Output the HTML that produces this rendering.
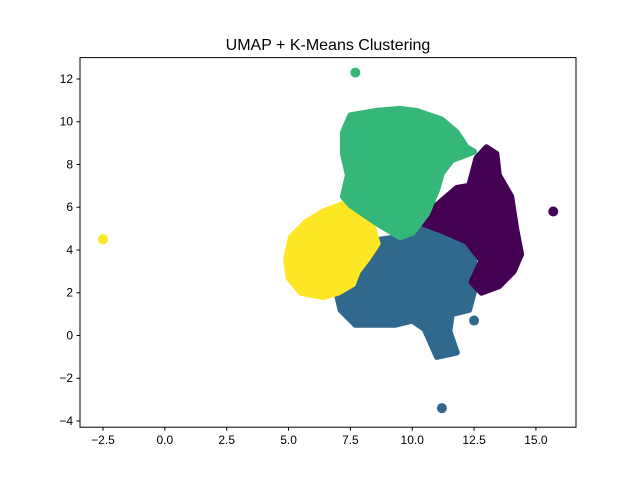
<!DOCTYPE html>
<html><head><meta charset="utf-8"><style>
html,body{margin:0;padding:0;background:#fff;}
svg{display:block;font-family:"Liberation Sans","DejaVu Sans",sans-serif;}
</style></head><body>
<svg id="chart" width="640" height="480">
<rect width="640" height="480" fill="#fff"/>
<text x="328" y="50" text-anchor="middle" font-size="16">UMAP + K-Means Clustering</text>
<g id="marks"></g>
<rect x="80" y="57.6" width="496" height="369.6" fill="none" stroke="#000" stroke-width="1"/>
<g id="axes" font-size="12"></g>
</svg>
<script>
const xTicks=[-2.5,0.0,2.5,5.0,7.5,10.0,12.5,15.0];
const yTicks=[-4,-2,0,2,4,6,8,10,12];
const clusterNames=["cluster-yellow","cluster-blue","cluster-purple","cluster-green"];
const clusterColors=["#fde725","#31688e","#440154","#35b779"];
const yellowRegion=[[4.9,3.6],[5.1,4.6],[5.7,5.3],[6.4,5.8],[7.3,6.2],[7.8,5.8],[8.4,5.1],[8.6,4.3],[8.2,3.6],[7.8,3.0],[7.6,2.4],[7.0,2.0],[6.4,1.8],[5.5,2.0],[5.0,2.7]];
const blueRegion=[[7.2,3.3],[8.2,4.4],[9.4,4.6],[10.3,5.4],[11.0,5.0],[12.0,4.5],[12.5,3.5],[12.6,2.5],[12.3,1.2],[11.6,1.0],[11.5,0.2],[11.8,-0.8],[11.0,-1.0],[10.5,0.3],[10.0,0.7],[9.3,0.5],[7.7,0.5],[7.1,1.2],[6.9,2.2]];
const purpleRegion=[[10.5,5.6],[11.2,6.3],[11.8,6.9],[12.3,7.0],[12.6,8.3],[13.0,8.8],[13.4,8.5],[13.5,7.5],[14.0,6.5],[14.2,5.0],[14.4,3.8],[14.1,3.0],[13.5,2.3],[12.8,2.0],[12.4,2.5],[12.8,3.5],[12.2,4.4],[11.2,4.9],[10.5,5.2]];
const greenRegion=[[7.2,9.5],[7.5,10.3],[8.5,10.5],[9.5,10.6],[10.2,10.5],[11.2,10.1],[11.8,9.5],[12.2,8.8],[12.5,8.6],[11.6,8.2],[11.2,7.6],[11.0,6.8],[10.6,5.7],[10.0,4.8],[9.5,4.6],[8.5,5.3],[7.5,6.1],[7.2,6.5],[7.4,7.5],[7.2,8.5]];
const outlierX=[-2.5,12.5,11.2,15.7,7.7];
const outlierY=[4.5,0.7,-3.4,5.8,12.3];
const outlierCluster=[0,1,1,2,3];

const X0=80,X1=576,Y0=57.6,Y1=427.2,xmin=-3.43,xmax=16.62,ymin=-4.29,ymax=13.0;
function sx(v){return X0+(v-xmin)/(xmax-xmin)*(X1-X0);}
function sy(v){return Y1-(v-ymin)/(ymax-ymin)*(Y1-Y0);}
const NS="http://www.w3.org/2000/svg";
const marks=document.getElementById('marks');
const regions=[yellowRegion,blueRegion,purpleRegion,greenRegion];
const order=[1,2,0,3];
order.forEach(i=>{
  const p=document.createElementNS(NS,'polygon');
  p.setAttribute('points',regions[i].map(q=>sx(q[0])+','+sy(q[1])).join(' '));
  p.setAttribute('fill',clusterColors[i]);
  p.setAttribute('stroke',clusterColors[i]);
  p.setAttribute('stroke-width','6');
  p.setAttribute('stroke-linejoin','round');
  
  
  marks.appendChild(p);
});
outlierX.forEach((v,i)=>{
  const c=document.createElementNS(NS,'circle');
  c.setAttribute('cx',sx(v));c.setAttribute('cy',sy(outlierY[i]));c.setAttribute('r','5');
  c.setAttribute('fill',clusterColors[outlierCluster[i]]);
  
  
  marks.appendChild(c);
});
const axes=document.getElementById('axes');
xTicks.forEach(t=>{
  const x=sx(t);
  const l=document.createElementNS(NS,'line');
  l.setAttribute('x1',x);l.setAttribute('x2',x);l.setAttribute('y1',Y1);l.setAttribute('y2',Y1+3.5);l.setAttribute('stroke','#000');
  
  
  axes.appendChild(l);
  const tx=document.createElementNS(NS,'text');
  tx.setAttribute('x',x);tx.setAttribute('y',Y1+17);tx.setAttribute('text-anchor','middle');
  tx.textContent=t.toFixed(1).replace('-','\u2212');
  
  
  axes.appendChild(tx);
});
yTicks.forEach(t=>{
  const y=sy(t);
  const l=document.createElementNS(NS,'line');
  l.setAttribute('x1',X0-3.5);l.setAttribute('x2',X0);l.setAttribute('y1',y);l.setAttribute('y2',y);l.setAttribute('stroke','#000');
  
  
  axes.appendChild(l);
  const tx=document.createElementNS(NS,'text');
  tx.setAttribute('x',X0-7);tx.setAttribute('y',y+4);tx.setAttribute('text-anchor','end');
  tx.textContent=String(t).replace('-','\u2212');
  
  
  axes.appendChild(tx);
});
</script>
</body></html>
